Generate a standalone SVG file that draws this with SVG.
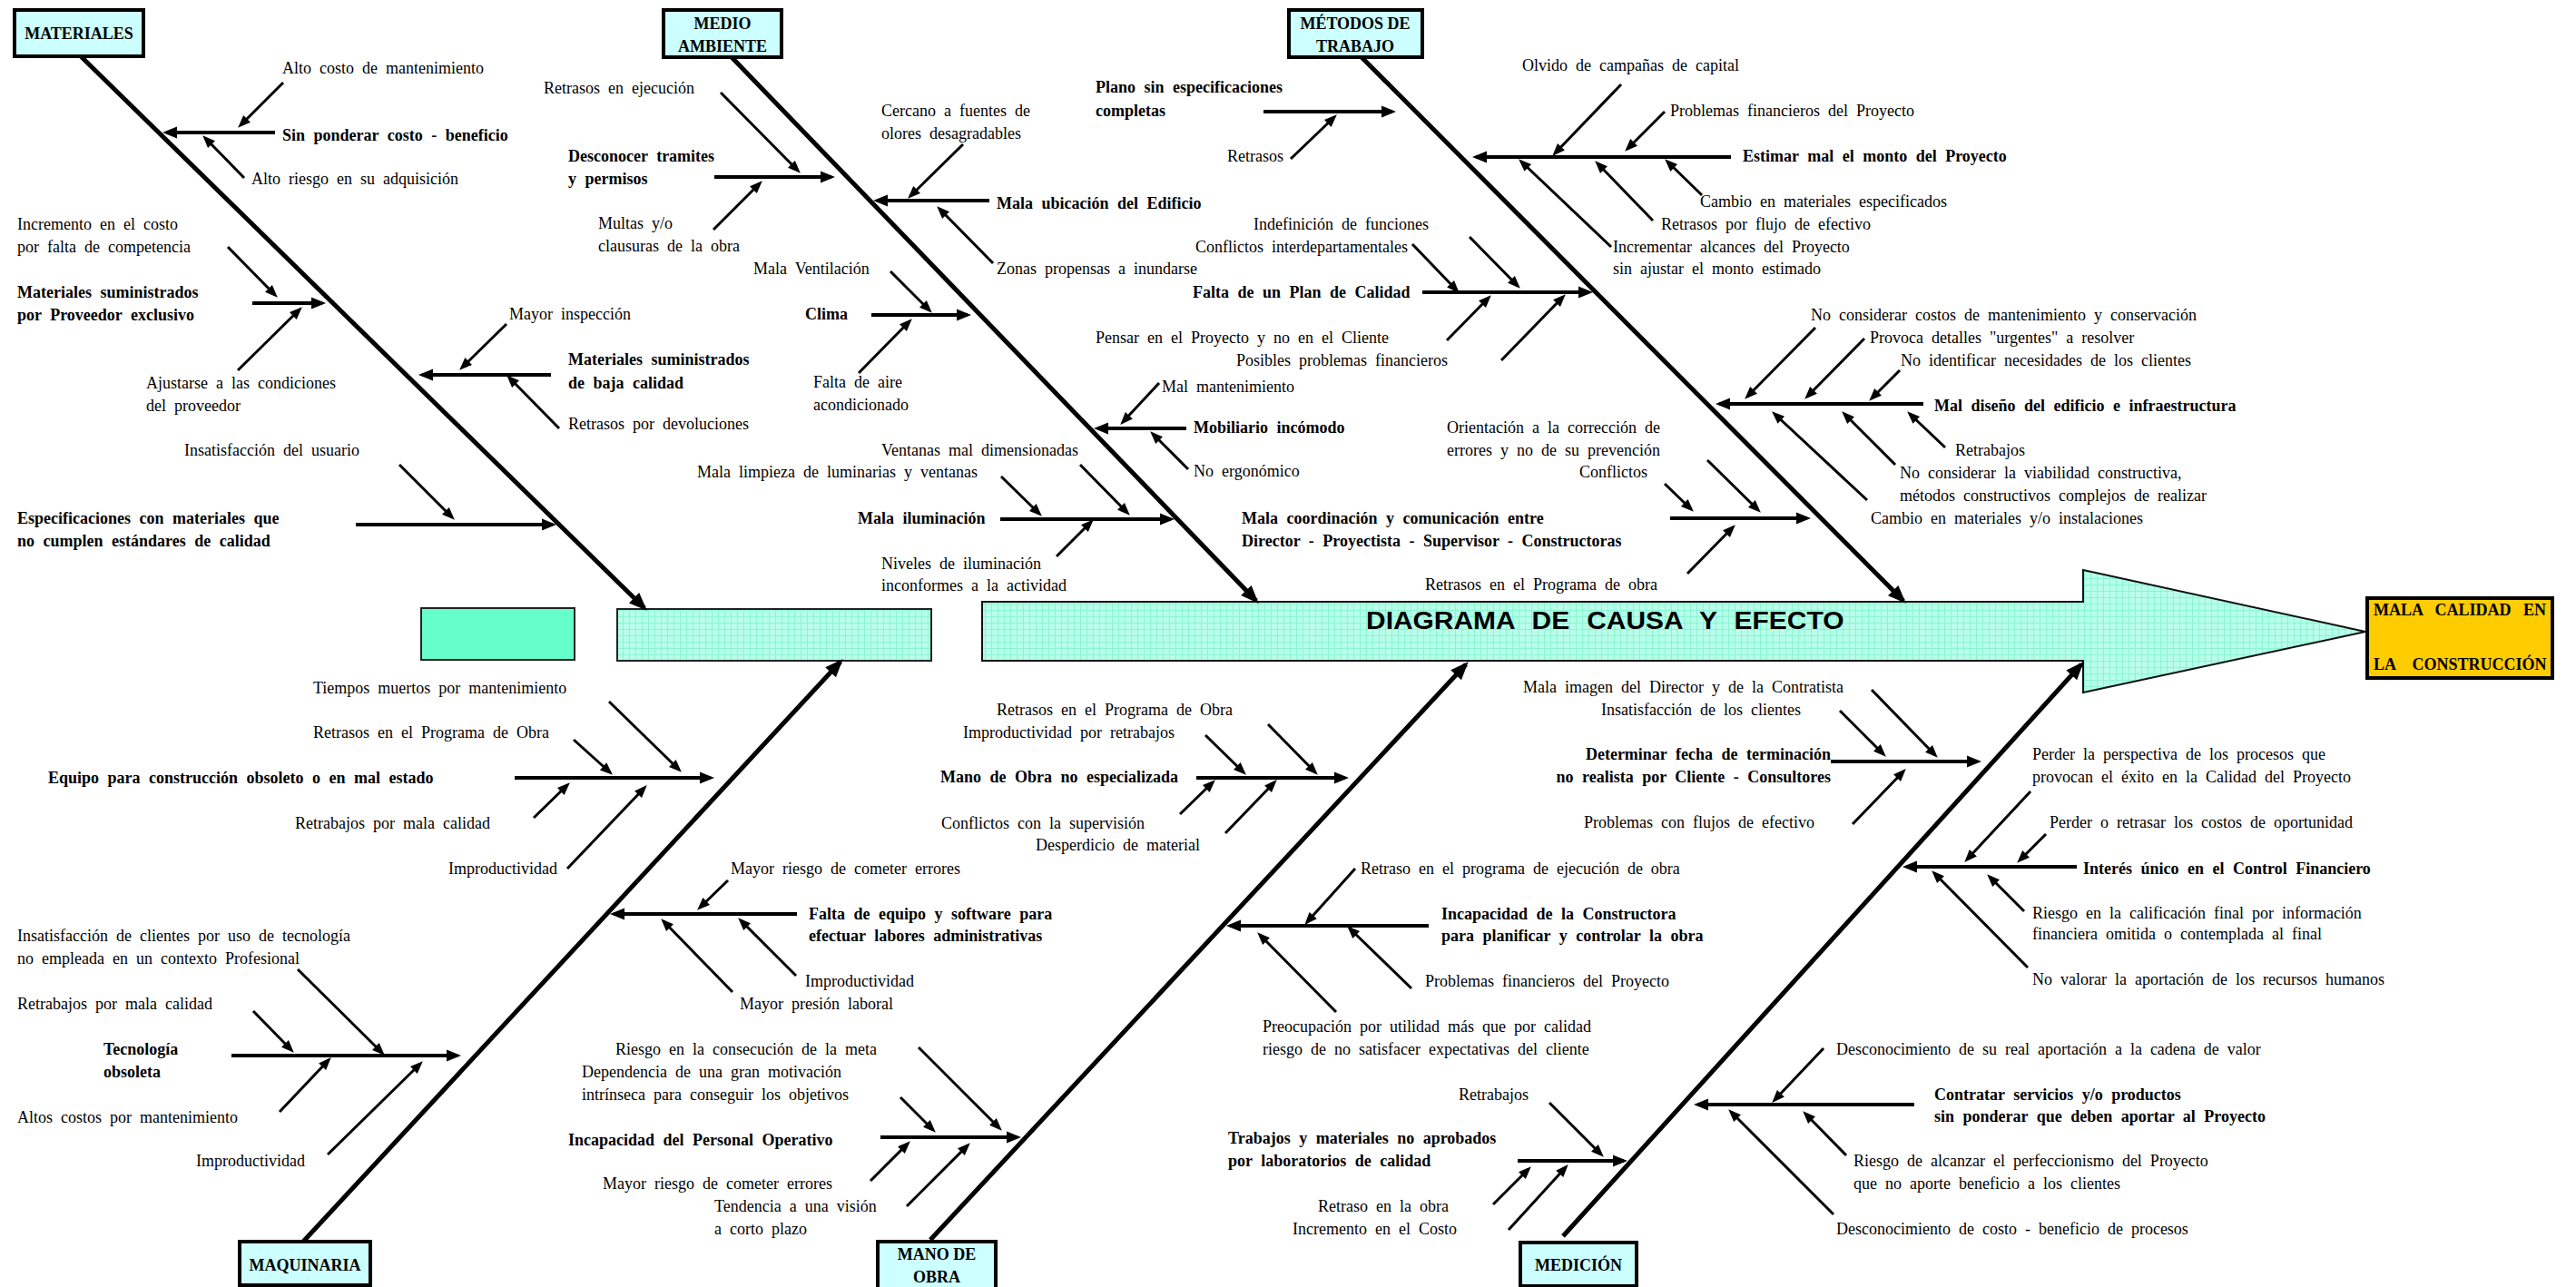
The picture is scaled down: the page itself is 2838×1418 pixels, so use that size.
<svg xmlns="http://www.w3.org/2000/svg" width="2838" height="1418" viewBox="0 0 2838 1418">
<style>
.t{font-family:"Liberation Serif","Times New Roman",serif;font-size:18px;word-spacing:4.5px;fill:#000}
.b{font-weight:bold;word-spacing:5px}
.bx{fill:#ccffff;stroke:#000;stroke-width:4}
.bt{font-family:"Liberation Serif","Times New Roman",serif;font-size:18px;font-weight:bold;fill:#000;text-anchor:middle}
.bone{stroke:#000;stroke-width:5;fill:none;marker-end:url(#hb)}
.br{stroke:#000;stroke-width:4;fill:none;marker-end:url(#hm)}
.s{stroke:#000;stroke-width:3;fill:none;marker-end:url(#hs)}
</style>
<defs>
<marker id="hb" markerUnits="userSpaceOnUse" markerWidth="22" markerHeight="16" refX="16" refY="8" orient="auto" overflow="visible"><path d="M0,0 L20,8 L0,16 z" fill="#000"/></marker>
<marker id="hm" markerUnits="userSpaceOnUse" markerWidth="18" markerHeight="13" refX="12" refY="6.5" orient="auto" overflow="visible"><path d="M0,0 L16,6.5 L0,13 z" fill="#000"/></marker>
<marker id="hs" markerUnits="userSpaceOnUse" markerWidth="16" markerHeight="11" refX="10" refY="5.5" orient="auto" overflow="visible"><path d="M0,0 L14,5.5 L0,11 z" fill="#000"/></marker>
<pattern id="grid" width="7" height="7" patternUnits="userSpaceOnUse"><rect width="7" height="7" fill="#b8ffea"/><path d="M0,0.5 H7 M0.5,0 V7" stroke="#8af5d2" stroke-width="1"/></pattern>
</defs>
<rect width="2838" height="1418" fill="#fff"/>

<g id="spine">
<rect x="464" y="670" width="169" height="57" fill="#66ffcc" stroke="#222" stroke-width="2"/>
<rect x="680" y="671" width="346" height="57" fill="url(#grid)" stroke="#222" stroke-width="2"/>
<polygon points="1082,663 2295,663 2295,628 2606,696 2295,763 2295,728 1082,728" fill="url(#grid)" stroke="#111" stroke-width="2"/>
<text transform="translate(1505,693) scale(1.07,1)" x="0" y="0" style="font-family:'Liberation Sans',Arial,sans-serif;font-size:28px;font-weight:bold;word-spacing:10px">DIAGRAMA DE CAUSA Y EFECTO</text>
</g>

<g id="efecto">
<rect x="2608" y="659" width="204" height="88" fill="#ffcc00" stroke="#000" stroke-width="4"/>
<text class="t b" x="2615" y="678" style="word-spacing:9px">MALA CALIDAD EN</text>
<text class="t b" x="2615" y="738" style="word-spacing:14px">LA CONSTRUCCIÓN</text>
</g>

<g id="cat-materiales"><rect class="bx" x="16" y="11" width="142" height="51"/><text class="bt" x="87" y="43">MATERIALES</text></g>
<g id="cat-medio"><rect class="bx" x="731" y="11" width="130" height="52"/><text class="bt" x="796" y="32">MEDIO</text><text class="bt" x="796" y="57">AMBIENTE</text></g>
<g id="cat-metodos"><rect class="bx" x="1420" y="11" width="147" height="52"/><text class="bt" x="1493" y="32">MÉTODOS DE</text><text class="bt" x="1493" y="57">TRABAJO</text></g>
<g id="cat-maquinaria"><rect class="bx" x="264" y="1368" width="144" height="48"/><text class="bt" x="336" y="1400">MAQUINARIA</text></g>
<g id="cat-manoobra"><rect class="bx" x="967" y="1368" width="130" height="52"/><text class="bt" x="1032" y="1388">MANO DE</text><text class="bt" x="1032" y="1413">OBRA</text></g>
<g id="cat-medicion"><rect class="bx" x="1675" y="1369" width="128" height="48"/><text class="bt" x="1739" y="1400">MEDICIÓN</text></g>

<g id="connectors">
<line class="bone" x1="89" y1="62" x2="710" y2="670"/>
<line class="bone" x1="806" y1="63" x2="1384" y2="662"/>
<line class="bone" x1="1500" y1="63" x2="2097" y2="662"/>
<line class="bone" x1="334" y1="1368" x2="926" y2="729"/>
<line class="bone" x1="1025" y1="1366" x2="1615" y2="732"/>
<line class="bone" x1="1722" y1="1362" x2="2293" y2="732"/>

<line class="br" x1="303" y1="146" x2="183" y2="146"/>
<line class="br" x1="278" y1="334" x2="355" y2="334"/>
<line class="br" x1="607" y1="413" x2="465" y2="413"/>
<line class="br" x1="392" y1="578" x2="609" y2="578"/>
<line class="br" x1="787" y1="195" x2="916" y2="195"/>
<line class="br" x1="1090" y1="221" x2="966" y2="221"/>
<line class="br" x1="960" y1="347" x2="1066" y2="347"/>
<line class="br" x1="1307" y1="472" x2="1209" y2="472"/>
<line class="br" x1="1102" y1="572" x2="1290" y2="572"/>
<line class="br" x1="1392" y1="123" x2="1534" y2="123"/>
<line class="br" x1="1907" y1="173" x2="1626" y2="173"/>
<line class="br" x1="1567" y1="322" x2="1751" y2="322"/>
<line class="br" x1="2119" y1="445" x2="1894" y2="445"/>
<line class="br" x1="1840" y1="571" x2="1991" y2="571"/>
<line class="br" x1="567" y1="857" x2="783" y2="857"/>
<line class="br" x1="878" y1="1007" x2="676" y2="1007"/>
<line class="br" x1="255" y1="1163" x2="504" y2="1163"/>
<line class="br" x1="970" y1="1253" x2="1121" y2="1253"/>
<line class="br" x1="1318" y1="857" x2="1482" y2="857"/>
<line class="br" x1="1574" y1="1020" x2="1355" y2="1020"/>
<line class="br" x1="1672" y1="1279" x2="1789" y2="1279"/>
<line class="br" x1="2017" y1="839" x2="2179" y2="839"/>
<line class="br" x1="2288" y1="955" x2="2100" y2="955"/>
<line class="br" x1="2109" y1="1217" x2="1870" y2="1217"/>

<line class="s" x1="312" y1="91" x2="265" y2="138"/>
<line class="s" x1="269" y1="196" x2="226" y2="152"/>
<line class="s" x1="251" y1="272" x2="303" y2="325"/>
<line class="s" x1="262" y1="408" x2="330" y2="341"/>
<line class="s" x1="558" y1="357" x2="509" y2="405"/>
<line class="s" x1="616" y1="472" x2="561" y2="416"/>
<line class="s" x1="440" y1="512" x2="498" y2="570"/>
<line class="s" x1="794" y1="102" x2="879" y2="188"/>
<line class="s" x1="786" y1="253" x2="837" y2="202"/>
<line class="s" x1="1061" y1="159" x2="1003" y2="216"/>
<line class="s" x1="1094" y1="290" x2="1035" y2="230"/>
<line class="s" x1="981" y1="299" x2="1024" y2="342"/>
<line class="s" x1="946" y1="411" x2="1002" y2="354"/>
<line class="s" x1="1277" y1="422" x2="1237" y2="465"/>
<line class="s" x1="1309" y1="517" x2="1270" y2="478"/>
<line class="s" x1="1190" y1="512" x2="1242" y2="565"/>
<line class="s" x1="1103" y1="525" x2="1145" y2="566"/>
<line class="s" x1="1164" y1="613" x2="1202" y2="575"/>
<line class="s" x1="1422" y1="175" x2="1470" y2="129"/>
<line class="s" x1="1786" y1="93" x2="1713" y2="169"/>
<line class="s" x1="1834" y1="123" x2="1793" y2="164"/>
<line class="s" x1="1875" y1="215" x2="1837" y2="178"/>
<line class="s" x1="1821" y1="243" x2="1760" y2="180"/>
<line class="s" x1="1775" y1="272" x2="1676" y2="178"/>
<line class="s" x1="1556" y1="269" x2="1605" y2="320"/>
<line class="s" x1="1619" y1="261" x2="1672" y2="315"/>
<line class="s" x1="1594" y1="375" x2="1640" y2="328"/>
<line class="s" x1="1654" y1="397" x2="1722" y2="327"/>
<line class="s" x1="2000" y1="361" x2="1925" y2="437"/>
<line class="s" x1="2054" y1="373" x2="1991" y2="437"/>
<line class="s" x1="2093" y1="408" x2="2062" y2="439"/>
<line class="s" x1="2057" y1="551" x2="1955" y2="456"/>
<line class="s" x1="2088" y1="512" x2="2032" y2="456"/>
<line class="s" x1="2143" y1="493" x2="2104" y2="456"/>
<line class="s" x1="1834" y1="533" x2="1863" y2="561"/>
<line class="s" x1="1881" y1="507" x2="1937" y2="562"/>
<line class="s" x1="1859" y1="632" x2="1909" y2="581"/>
<line class="s" x1="671" y1="773" x2="748" y2="848"/>
<line class="s" x1="632" y1="815" x2="672" y2="851"/>
<line class="s" x1="588" y1="901" x2="625" y2="865"/>
<line class="s" x1="625" y1="957" x2="710" y2="868"/>
<line class="s" x1="328" y1="1068" x2="421" y2="1160"/>
<line class="s" x1="279" y1="1114" x2="321" y2="1157"/>
<line class="s" x1="308" y1="1225" x2="362" y2="1168"/>
<line class="s" x1="361" y1="1272" x2="463" y2="1172"/>
<line class="s" x1="802" y1="970" x2="771" y2="1000"/>
<line class="s" x1="877" y1="1075" x2="816" y2="1014"/>
<line class="s" x1="807" y1="1093" x2="731" y2="1015"/>
<line class="s" x1="1012" y1="1154" x2="1101" y2="1243"/>
<line class="s" x1="992" y1="1209" x2="1028" y2="1245"/>
<line class="s" x1="959" y1="1301" x2="1000" y2="1260"/>
<line class="s" x1="999" y1="1329" x2="1066" y2="1262"/>
<line class="s" x1="1397" y1="798" x2="1449" y2="851"/>
<line class="s" x1="1328" y1="810" x2="1370" y2="851"/>
<line class="s" x1="1300" y1="897" x2="1336" y2="862"/>
<line class="s" x1="1350" y1="918" x2="1404" y2="862"/>
<line class="s" x1="1493" y1="957" x2="1440" y2="1016"/>
<line class="s" x1="1555" y1="1089" x2="1487" y2="1023"/>
<line class="s" x1="1472" y1="1115" x2="1388" y2="1030"/>
<line class="s" x1="1707" y1="1215" x2="1764" y2="1272"/>
<line class="s" x1="1645" y1="1327" x2="1684" y2="1288"/>
<line class="s" x1="1662" y1="1355" x2="1725" y2="1286"/>
<line class="s" x1="2062" y1="760" x2="2132" y2="832"/>
<line class="s" x1="2027" y1="783" x2="2075" y2="831"/>
<line class="s" x1="2041" y1="908" x2="2097" y2="850"/>
<line class="s" x1="2237" y1="872" x2="2167" y2="947"/>
<line class="s" x1="2254" y1="919" x2="2225" y2="948"/>
<line class="s" x1="2230" y1="1004" x2="2192" y2="966"/>
<line class="s" x1="2234" y1="1066" x2="2131" y2="962"/>
<line class="s" x1="2009" y1="1155" x2="1955" y2="1212"/>
<line class="s" x1="2034" y1="1273" x2="1989" y2="1227"/>
<line class="s" x1="2020" y1="1338" x2="1907" y2="1225"/>
</g>

<g id="n-mat1"><text class="t" x="311" y="81">Alto costo de mantenimiento</text></g>
<g id="n-mat2"><text class="t b" x="311" y="155">Sin ponderar costo - beneficio</text></g>
<g id="n-mat3"><text class="t" x="277" y="203">Alto riesgo en su adquisición</text></g>
<g id="n-mat4"><text class="t" x="19" y="253">Incremento en el costo</text><text class="t" x="19" y="278">por falta de competencia</text></g>
<g id="n-mat5"><text class="t b" x="19" y="328">Materiales suministrados</text><text class="t b" x="19" y="353">por Proveedor exclusivo</text></g>
<g id="n-mat6"><text class="t" x="161" y="428">Ajustarse a las condiciones</text><text class="t" x="161" y="453">del proveedor</text></g>
<g id="n-mat7"><text class="t" x="561" y="352">Mayor inspección</text></g>
<g id="n-mat8"><text class="t b" x="626" y="402">Materiales suministrados</text><text class="t b" x="626" y="428">de baja calidad</text></g>
<g id="n-mat9"><text class="t" x="626" y="473">Retrasos por devoluciones</text></g>
<g id="n-mat10"><text class="t" x="203" y="502">Insatisfacción del usuario</text></g>
<g id="n-mat11"><text class="t b" x="19" y="577">Especificaciones con materiales que</text><text class="t b" x="19" y="602">no cumplen estándares de calidad</text></g>

<g id="n-med1"><text class="t" x="599" y="103">Retrasos en ejecución</text></g>
<g id="n-med2"><text class="t b" x="626" y="178">Desconocer tramites</text><text class="t b" x="626" y="203">y permisos</text></g>
<g id="n-med3"><text class="t" x="659" y="252">Multas y/o</text><text class="t" x="659" y="277">clausuras de la obra</text></g>
<g id="n-med4"><text class="t" x="971" y="128">Cercano a fuentes de</text><text class="t" x="971" y="153">olores desagradables</text></g>
<g id="n-med5"><text class="t b" x="1098" y="230">Mala ubicación del Edificio</text></g>
<g id="n-med6"><text class="t" x="1098" y="302">Zonas propensas a inundarse</text></g>
<g id="n-med7"><text class="t" x="830" y="302">Mala Ventilación</text></g>
<g id="n-med8"><text class="t b" x="887" y="352">Clima</text></g>
<g id="n-med9"><text class="t" x="896" y="427">Falta de aire</text><text class="t" x="896" y="452">acondicionado</text></g>
<g id="n-med10"><text class="t" x="1280" y="432">Mal mantenimiento</text></g>
<g id="n-med11"><text class="t b" x="1315" y="477">Mobiliario incómodo</text></g>
<g id="n-med12"><text class="t" x="1315" y="525">No ergonómico</text></g>
<g id="n-med13"><text class="t" x="971" y="502">Ventanas mal dimensionadas</text></g>
<g id="n-med14"><text class="t" x="768" y="526">Mala limpieza de luminarias y ventanas</text></g>
<g id="n-med15"><text class="t b" x="945" y="577">Mala iluminación</text></g>
<g id="n-med16"><text class="t" x="971" y="627">Niveles de iluminación</text><text class="t" x="971" y="651">inconformes a la actividad</text></g>

<g id="n-met1"><text class="t b" x="1207" y="102">Plano sin especificaciones</text><text class="t b" x="1207" y="128">completas</text></g>
<g id="n-met2"><text class="t" x="1352" y="178">Retrasos</text></g>
<g id="n-met3"><text class="t" x="1677" y="78">Olvido de campañas de capital</text></g>
<g id="n-met4"><text class="t" x="1840" y="128">Problemas financieros del Proyecto</text></g>
<g id="n-met5"><text class="t b" x="1920" y="178">Estimar mal el monto del Proyecto</text></g>
<g id="n-met6"><text class="t" x="1873" y="228">Cambio en materiales especificados</text></g>
<g id="n-met7"><text class="t" x="1830" y="253">Retrasos por flujo de efectivo</text></g>
<g id="n-met8"><text class="t" x="1777" y="278">Incrementar alcances del Proyecto</text><text class="t" x="1777" y="302">sin ajustar el monto estimado</text></g>
<g id="n-met9"><text class="t" x="1381" y="253">Indefinición de funciones</text></g>
<g id="n-met10"><text class="t" x="1317" y="278">Conflictos interdepartamentales</text></g>
<g id="n-met11"><text class="t b" x="1314" y="328">Falta de un Plan de Calidad</text></g>
<g id="n-met12"><text class="t" x="1207" y="378">Pensar en el Proyecto y no en el Cliente</text></g>
<g id="n-met13"><text class="t" x="1362" y="403">Posibles problemas financieros</text></g>
<g id="n-met14"><text class="t" x="1995" y="353">No considerar costos de mantenimiento y conservación</text></g>
<g id="n-met15"><text class="t" x="2060" y="378">Provoca detalles "urgentes" a resolver</text></g>
<g id="n-met16"><text class="t" x="2094" y="403">No identificar necesidades de los clientes</text></g>
<g id="n-met17"><text class="t b" x="2131" y="453">Mal diseño del edificio e infraestructura</text></g>
<g id="n-met18"><text class="t" x="2154" y="502">Retrabajos</text></g>
<g id="n-met19"><text class="t" x="2093" y="527">No considerar la viabilidad constructiva,</text><text class="t" x="2093" y="552">métodos constructivos complejos de realizar</text></g>
<g id="n-met20"><text class="t" x="2061" y="577">Cambio en materiales y/o instalaciones</text></g>
<g id="n-met21"><text class="t" x="1594" y="477">Orientación a la corrección de</text><text class="t" x="1594" y="502">errores y no de su prevención</text></g>
<g id="n-met22"><text class="t" x="1740" y="526">Conflictos</text></g>
<g id="n-met23"><text class="t b" x="1368" y="577">Mala coordinación y comunicación entre</text><text class="t b" x="1368" y="602">Director - Proyectista - Supervisor - Constructoras</text></g>
<g id="n-met24"><text class="t" x="1570" y="650">Retrasos en el Programa de obra</text></g>

<g id="n-maq1"><text class="t" x="345" y="764">Tiempos muertos por mantenimiento</text></g>
<g id="n-maq2"><text class="t" x="345" y="813">Retrasos en el Programa de Obra</text></g>
<g id="n-maq3"><text class="t b" x="53" y="863">Equipo para construcción obsoleto o en mal estado</text></g>
<g id="n-maq4"><text class="t" x="325" y="913">Retrabajos por mala calidad</text></g>
<g id="n-maq5"><text class="t" x="494" y="963">Improductividad</text></g>
<g id="n-maq6"><text class="t" x="19" y="1037">Insatisfacción de clientes por uso de tecnología</text><text class="t" x="19" y="1062">no empleada en un contexto Profesional</text></g>
<g id="n-maq7"><text class="t" x="19" y="1112">Retrabajos por mala calidad</text></g>
<g id="n-maq8"><text class="t b" x="114" y="1162">Tecnología</text><text class="t b" x="114" y="1187">obsoleta</text></g>
<g id="n-maq9"><text class="t" x="19" y="1237">Altos costos por mantenimiento</text></g>
<g id="n-maq10"><text class="t" x="216" y="1285">Improductividad</text></g>

<g id="n-mo1"><text class="t" x="805" y="963">Mayor riesgo de cometer errores</text></g>
<g id="n-mo2"><text class="t b" x="891" y="1013">Falta de equipo y software para</text><text class="t b" x="891" y="1037">efectuar labores administrativas</text></g>
<g id="n-mo3"><text class="t" x="887" y="1087">Improductividad</text></g>
<g id="n-mo4"><text class="t" x="815" y="1112">Mayor presión laboral</text></g>
<g id="n-mo5"><text class="t" x="678" y="1162">Riesgo en la consecución de la meta</text><text class="t" x="641" y="1187">Dependencia de una gran motivación</text><text class="t" x="641" y="1212">intrínseca para conseguir los objetivos</text></g>
<g id="n-mo6"><text class="t b" x="626" y="1262">Incapacidad del Personal Operativo</text></g>
<g id="n-mo7"><text class="t" x="664" y="1310">Mayor riesgo de cometer errores</text></g>
<g id="n-mo8"><text class="t" x="787" y="1335">Tendencia a una visión</text><text class="t" x="787" y="1360">a corto plazo</text></g>
<g id="n-mo9"><text class="t" x="1098" y="788">Retrasos en el Programa de Obra</text></g>
<g id="n-mo10"><text class="t" x="1061" y="813">Improductividad por retrabajos</text></g>
<g id="n-mo11"><text class="t b" x="1036" y="862">Mano de Obra no especializada</text></g>
<g id="n-mo12"><text class="t" x="1037" y="913">Conflictos con la supervisión</text></g>
<g id="n-mo13"><text class="t" x="1141" y="937">Desperdicio de material</text></g>

<g id="n-mc1"><text class="t" x="1499" y="963">Retraso  en el programa de ejecución de obra</text></g>
<g id="n-mc2"><text class="t b" x="1588" y="1013">Incapacidad de la Constructora</text><text class="t b" x="1588" y="1037">para planificar y controlar la obra</text></g>
<g id="n-mc3"><text class="t" x="1570" y="1087">Problemas financieros del Proyecto</text></g>
<g id="n-mc4"><text class="t" x="1391" y="1137">Preocupación por utilidad más que por calidad</text><text class="t" x="1391" y="1162">riesgo de no satisfacer expectativas del cliente</text></g>
<g id="n-mc5"><text class="t" x="1607" y="1212">Retrabajos</text></g>
<g id="n-mc6"><text class="t b" x="1353" y="1260">Trabajos y materiales no aprobados</text><text class="t b" x="1353" y="1285">por laboratorios de calidad</text></g>
<g id="n-mc7"><text class="t" x="1452" y="1335">Retraso en la obra</text></g>
<g id="n-mc8"><text class="t" x="1424" y="1360">Incremento en el Costo</text></g>
<g id="n-mc9"><text class="t" x="1678" y="763">Mala imagen del Director y de la Contratista</text></g>
<g id="n-mc10"><text class="t" x="1764" y="788">Insatisfacción de los clientes</text></g>
<g id="n-mc11"><text class="t b" x="2017" y="837" text-anchor="end">Determinar fecha de terminación</text><text class="t b" x="2017" y="862" text-anchor="end">no realista por Cliente - Consultores</text></g>
<g id="n-mc12"><text class="t" x="1745" y="912">Problemas con flujos de efectivo</text></g>
<g id="n-mc13"><text class="t" x="2239" y="837">Perder la perspectiva de los procesos que</text><text class="t" x="2239" y="862">provocan el éxito en la Calidad del Proyecto</text></g>
<g id="n-mc14"><text class="t" x="2258" y="912">Perder o retrasar los costos de oportunidad</text></g>
<g id="n-mc15"><text class="t b" x="2295" y="963">Interés único en el Control Financiero</text></g>
<g id="n-mc16"><text class="t" x="2239" y="1012">Riesgo en la calificación final por información</text><text class="t" x="2239" y="1035">financiera omitida o contemplada al final</text></g>
<g id="n-mc17"><text class="t" x="2239" y="1085">No valorar la aportación de los recursos humanos</text></g>
<g id="n-mc18"><text class="t" x="2023" y="1162">Desconocimiento de su real aportación a la cadena de valor</text></g>
<g id="n-mc19"><text class="t b" x="2131" y="1212">Contratar servicios y/o productos</text><text class="t b" x="2131" y="1236">sin ponderar que deben aportar al Proyecto</text></g>
<g id="n-mc20"><text class="t" x="2042" y="1285">Riesgo de alcanzar el perfeccionismo del Proyecto</text><text class="t" x="2042" y="1310">que no aporte beneficio a los clientes</text></g>
<g id="n-mc21"><text class="t" x="2023" y="1360">Desconocimiento de costo - beneficio de procesos</text></g>
</svg>
